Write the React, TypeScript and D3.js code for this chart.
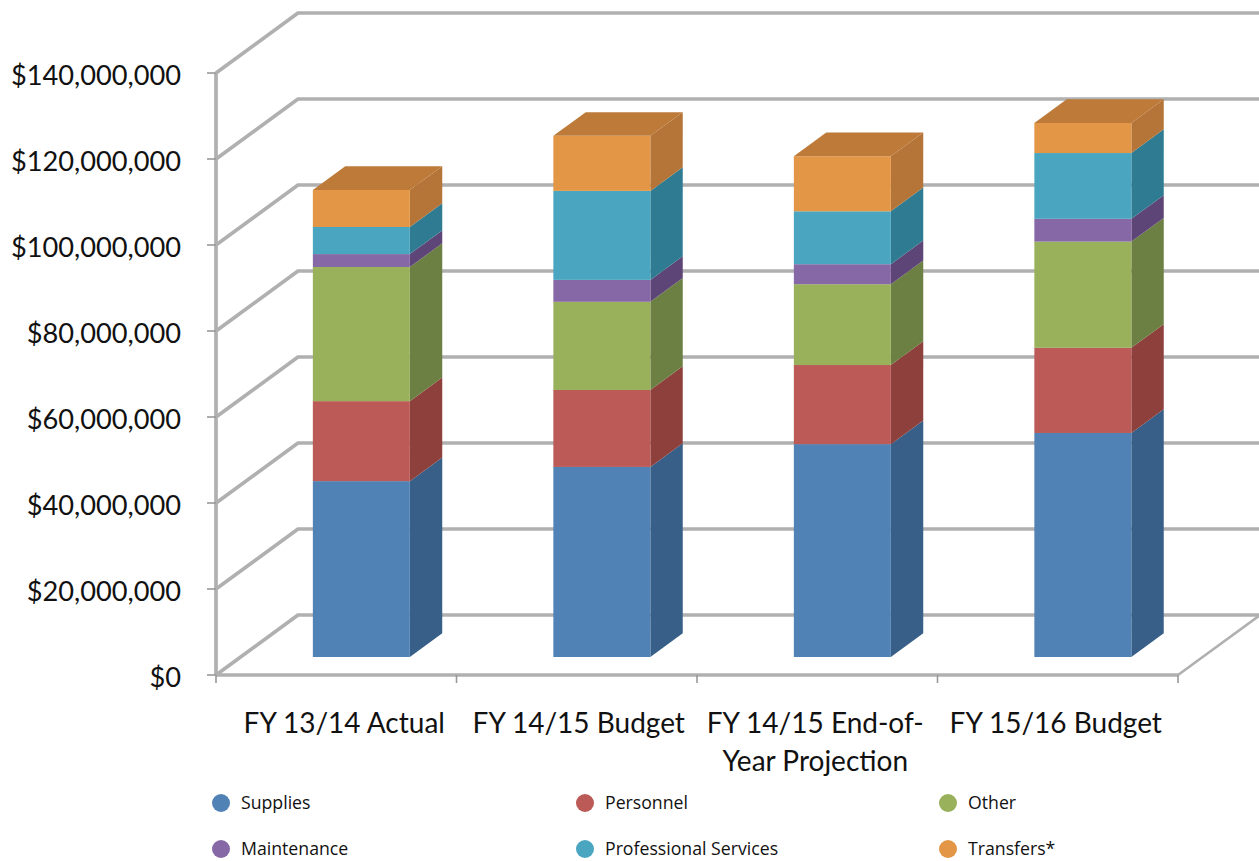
import React from "react";
import * as d3 from "d3";

const categories = ["FY 13/14 Actual", "FY 14/15 Budget", "FY 14/15 End-of-Year Projection", "FY 15/16 Budget"];
const categoryLines = [["FY 13/14 Actual"], ["FY 14/15 Budget"], ["FY 14/15 End-of-", "Year Projection"], ["FY 15/16 Budget"]];
const seriesNames = ["Supplies", "Personnel", "Other", "Maintenance", "Professional Services", "Transfers*"];

// Amounts in millions of dollars, one entry per fiscal-year column
const supplies = [40.9, 44.2, 49.5, 52.1];
const personnel = [18.6, 17.9, 18.4, 19.8];
const other = [31.2, 20.5, 18.8, 24.7];
const maintenance = [3.0, 5.1, 4.65, 5.3];
const professionalServices = [6.3, 20.7, 12.3, 15.3];
const transfers = [8.6, 12.8, 12.8, 7.0];
const seriesValues = [supplies, personnel, other, maintenance, professionalServices, transfers];

const faceColors = ["#5082b6", "#bb5a56", "#98b15a", "#8768a6", "#4aa6c0", "#e39645"];
const sideColors = ["#375f87", "#8e403c", "#6c8043", "#5d4677", "#2f7c92", "#b67538"];
const topColor = "#bd7a38";
const yTicks = d3.range(0, 140000001, 20000000);

const gridColor = "#b0b0b0";
const textColor = "#111111";
const W = 1259;
const H = 861;

// Oblique projection: depth 0 is the front plane, depth 1 the back wall
const depthX = 82;
const depthY = -60;
const barDepthFront = 0.3;
const barDepthBack = 0.695;

const y = d3.scaleLinear().domain([0, 140]).range([675, 73]);
const x = d3.scaleBand<string>().domain(categories).range([216, 1178]);
const barWidth = 97;

const money = (v: number) => "$" + d3.format(",")(v);
const poly = (pts: [number, number][]) => d3.line()(pts) + "Z";

const rows = categories.map((c, i) => {
  const row: Record<string, number | string> = { category: c };
  seriesNames.forEach((s, k) => (row[s] = seriesValues[k][i]));
  return row;
});
const stacked = d3.stack<any>().keys(seriesNames)(rows);

const legendCols = [221, 585, 948];
const legendRows = [803, 849];
const labelNudge = [8, 2, -2, -2];

export default function App() {
  const frontDx = barDepthFront * depthX + 0.5;
  const frontDy = barDepthFront * depthY;
  const sideDx = (barDepthBack - barDepthFront) * depthX;
  const sideDy = (barDepthBack - barDepthFront) * depthY;
  const y140 = y(140);
  const y0 = y(0);

  return (
    <svg
      width={W}
      height={H}
      style={{ position: "absolute", left: 0, top: 0, background: "#ffffff" }}
    >
      {/* Gridlines run up the side wall and across the back wall */}
      <g fill="none" stroke={gridColor} strokeWidth={3.7} strokeLinejoin="round">
        {yTicks.map((t) => {
          const py = y(t / 1e6);
          return (
            <path
              key={t}
              d={d3.line()([
                [216, py],
                [216 + depthX, py + depthY],
                [1178 + depthX + 2, py + depthY],
              ]) as string}
            />
          );
        })}
        <line x1={216} x2={216} y1={y140} y2={y0} />
        <line x1={216} x2={1178} y1={y0} y2={y0} />
        <line x1={1178} y1={y0} x2={1178 + depthX + 2} y2={y0 + depthY - 1.4} strokeWidth={2.6} />
      </g>

      {/* Axis tick marks */}
      <g stroke="#999999" strokeWidth={1.6}>
        {yTicks.map((t) => (
          <line key={t} x1={207} x2={216} y1={y(t / 1e6)} y2={y(t / 1e6)} />
        ))}
        {[...categories.map((c) => x(c) as number), 1178].map((px) => (
          <line key={px} x1={px} x2={px} y1={y0} y2={y0 + 8} />
        ))}
      </g>

      {/* Stacked columns: front face plus receding side, capped with a top face */}
      {categories.map((c, i) => {
        const left = (x(c) as number) + x.bandwidth() / 2 + frontDx - barWidth / 2;
        const right = left + barWidth;
        const topY = y(stacked[stacked.length - 1][i][1]) + frontDy;
        return (
          <g key={c}>
            {stacked.map((layer, k) => {
              const a = y(layer[i][1]) + frontDy;
              const b = y(layer[i][0]) + frontDy;
              return (
                <g key={layer.key}>
                  <path
                    d={poly([
                      [right, a],
                      [right + sideDx, a + sideDy],
                      [right + sideDx, b + sideDy],
                      [right, b],
                    ])}
                    fill={sideColors[k]}
                  />
                  <rect x={left} y={a} width={barWidth} height={b - a} fill={faceColors[k]} />
                </g>
              );
            })}
            <path
              d={poly([
                [left, topY],
                [left + sideDx, topY + sideDy],
                [right + sideDx, topY + sideDy],
                [right, topY],
              ])}
              fill={topColor}
            />
          </g>
        );
      })}

      {/* Value axis labels */}
      <g fontFamily="Lato, sans-serif" fontSize={27.2} fill={textColor} textAnchor="end">
        {yTicks.map((t) => (
          <text key={t} x={181} y={y(t / 1e6) + 12}>
            {money(t)}
          </text>
        ))}
      </g>

      {/* Category labels */}
      <g fontFamily="Lato, sans-serif" fontSize={28} fill={textColor} textAnchor="middle">
        {categories.map((c, i) => (
          <text key={c} y={733}>
            {categoryLines[i].map((line, j) => (
              <tspan
                key={line}
                x={(x(c) as number) + x.bandwidth() / 2 + labelNudge[i]}
                y={733 + j * 38}
              >
                {line}
              </tspan>
            ))}
          </text>
        ))}
      </g>

      {/* Legend */}
      <g fontFamily="'Open Sans', sans-serif" fontSize={17.7} fill={textColor}>
        {seriesNames.map((s, k) => {
          const cx = legendCols[k % 3];
          const cy = legendRows[Math.floor(k / 3)];
          return (
            <g key={s}>
              <circle cx={cx} cy={cy} r={9} fill={faceColors[k]} />
              <text x={cx + 20} y={cy + 6}>
                {s}
              </text>
            </g>
          );
        })}
      </g>
    </svg>
  );
}
